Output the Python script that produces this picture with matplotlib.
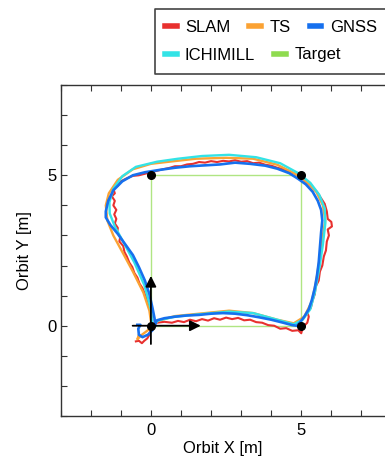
import matplotlib
matplotlib.use("Agg")
import matplotlib.pyplot as plt
from matplotlib.ticker import MultipleLocator
from matplotlib.lines import Line2D

plt.rcParams['font.family'] = ['Liberation Sans', 'DejaVu Sans']

# trajectories [m]
slam_x = [0.0, 0.2, 0.45, 0.7, 0.9, 1.1, 1.3, 1.5, 1.7, 1.9, 2.1, 2.3, 2.5, 2.7, 2.9, 3.1, 3.3, 3.5, 3.7, 3.9,
          4.1, 4.3, 4.5, 4.7, 4.9, 5.0, 5.05, 5.2, 5.25, 5.2, 5.32, 5.38, 5.45, 5.48, 5.58, 5.62, 5.7, 5.75, 5.82,
          5.85, 5.92, 5.88, 6.02, 6.0, 5.88, 5.85, 5.78, 5.65, 5.52, 5.35, 5.2, 5.0, 4.8, 4.6, 4.4, 4.2, 4.0,
          3.8, 3.6, 3.4, 3.2, 3.0, 2.8, 2.6, 2.4, 2.2, 2.0, 1.8, 1.6, 1.4, 1.2, 1.0, 0.8, 0.6, 0.4, 0.2, 0.0,
          -0.2, -0.4, -0.6, -0.8, -1.0, -1.1, -1.25, -1.2, -1.3, -1.2, -1.25, -1.15, -1.22, -1.15, -1.2, -1.1,
          -1.12, -1.02, -1.05, -0.92, -0.88, -0.8, -0.72, -0.62, -0.55, -0.45, -0.38, -0.28, -0.2, -0.12, -0.05,
          0.0, 0.05, 0.0, -0.05, -0.12, -0.22, -0.3, -0.4, -0.5]
slam_y = [0.0, 0.1, 0.13, 0.1, 0.16, 0.12, 0.2, 0.15, 0.22, 0.17, 0.25, 0.2, 0.27, 0.22, 0.26, 0.18, 0.2, 0.12,
          0.1, 0.02, 0.0, -0.1, -0.08, -0.17, -0.15, -0.25, -0.05, 0.1, 0.3, 0.45, 0.6, 0.85, 1.05, 1.3, 1.5,
          1.8, 2.0, 2.3, 2.5, 2.8, 3.0, 3.2, 3.3, 3.45, 3.55, 3.8, 4.05, 4.25, 4.45, 4.62, 4.75, 4.92, 5.05,
          5.12, 5.2, 5.25, 5.32, 5.35, 5.42, 5.4, 5.47, 5.45, 5.5, 5.46, 5.48, 5.44, 5.47, 5.42, 5.44, 5.38,
          5.36, 5.3, 5.3, 5.24, 5.2, 5.15, 5.1, 5.05, 5.0, 4.98, 4.9, 4.8, 4.65, 4.55, 4.4, 4.3, 4.15, 4.0,
          3.85, 3.7, 3.55, 3.4, 3.25, 3.1, 2.95, 2.8, 2.65, 2.45, 2.3, 2.1, 1.95, 1.75, 1.6, 1.4, 1.25, 1.05,
          0.85, 0.65, 0.45, 0.2, -0.05, -0.3, -0.42, -0.5, -0.58, -0.5, -0.52]

ts_x = [0.0, 0.2, 0.8, 1.6, 2.6, 3.4, 4.2, 4.75, 5.1, 5.35, 5.5, 5.62, 5.72, 5.8, 5.72, 5.5, 5.15, 4.8,
        4.2, 3.4, 2.5, 1.5, 0.6, 0.0, -0.6, -1.1, -1.4, -1.5, -1.45, -1.25, -0.95, -0.6, -0.25, -0.05,
        0.02, -0.1, -0.3, -0.45, -0.4]
ts_y = [0.0, 0.15, 0.32, 0.4, 0.5, 0.42, 0.2, 0.08, 0.3, 0.8, 1.5, 2.3, 3.0, 3.5, 4.0, 4.45, 4.8, 5.05,
        5.35, 5.55, 5.58, 5.55, 5.45, 5.38, 5.2, 4.85, 4.4, 4.0, 3.5, 3.0, 2.45, 1.8, 1.1, 0.5,
        0.0, -0.15, -0.3, -0.45, -0.3]

gnss_x = [-0.45, -0.35, -0.42, -0.4, -0.28, -0.1, 0.05, 0.12, 0.2, 0.45, 0.8, 1.2, 1.6, 2.0, 2.4, 2.8, 3.2,
          3.6, 4.0, 4.4, 4.7, 4.85, 4.95, 5.1, 5.25, 5.35, 5.45, 5.52, 5.58, 5.62, 5.66, 5.7, 5.66, 5.55,
          5.38, 5.15, 4.9, 4.6, 4.2, 3.8, 3.3, 2.8, 2.3, 1.8, 1.3, 0.8, 0.3, -0.2, -0.6, -0.95, -1.25,
          -1.42, -1.5, -1.5, -1.35, -1.1, -0.85, -0.6, -0.4, -0.2, -0.05, 0.05, 0.12, 0.15]
gnss_y = [0.03, 0.03, -0.1, -0.3, -0.38, -0.3, -0.15, 0.05, 0.18, 0.25, 0.3, 0.34, 0.36, 0.4, 0.42, 0.4, 0.35,
          0.28, 0.2, 0.1, 0.02, 0.0, 0.1, 0.3, 0.55, 0.85, 1.25, 1.65, 2.1, 2.6, 3.1, 3.5, 3.85, 4.15,
          4.45, 4.7, 4.88, 5.07, 5.22, 5.32, 5.38, 5.42, 5.36, 5.33, 5.3, 5.25, 5.18, 5.1, 5.0, 4.8, 4.5,
          4.15, 3.8, 3.6, 3.35, 3.05, 2.7, 2.35, 1.95, 1.5, 1.05, 0.6, 0.25, 0.0]

ichimill_x = [0.05, 0.25, 0.8, 1.6, 2.6, 3.4, 4.2, 4.75, 5.05, 5.3, 5.45, 5.6, 5.72, 5.8, 5.78, 5.6, 5.3,
              4.9, 4.3, 3.5, 2.6, 1.7, 0.9, 0.2, -0.5, -0.95, -1.25, -1.38, -1.37, -1.2, -0.9, -0.55,
              -0.22, 0.0, 0.05]
ichimill_y = [0.0, 0.18, 0.3, 0.38, 0.47, 0.42, 0.2, 0.05, 0.2, 0.55, 1.1, 1.9, 2.7, 3.4, 3.9, 4.35, 4.75,
              5.07, 5.4, 5.6, 5.68, 5.64, 5.55, 5.45, 5.28, 4.97, 4.55, 4.1, 3.73, 3.3, 2.75, 2.1,
              1.35, 0.55, 0.0]

target_x = [0, 5, 5, 0, 0]
target_y = [0, 0, 5, 5, 0]
corner_x = [0, 5, 5, 0]
corner_y = [0, 0, 5, 5]

c_slam = '#e8302e'
c_ts = '#fba233'
c_gnss = '#1670ee'
c_ichi = '#33e3e6'
c_target = '#8fdb4f'

fig = plt.figure(figsize=(3.85, 4.58), dpi=100)
# the plot runs off the right edge of the picture: cut it at the figure border
left_px = 60.7
px_per_m = 30.07
ax = fig.add_axes([left_px / 385, 42 / 458, 1 - left_px / 385, 331 / 458])

ax.plot(target_x, target_y, color=c_target, lw=1.0, alpha=0.7, zorder=1)
ax.plot(slam_x, slam_y, color=c_slam, lw=1.5, zorder=2)
ax.plot(ts_x, ts_y, color=c_ts, lw=1.7, zorder=3)
ax.plot(ichimill_x, ichimill_y, color=c_ichi, lw=1.7, zorder=4)
ax.plot(gnss_x, gnss_y, color=c_gnss, lw=1.9, zorder=5)

# origin frame arrows
ax.annotate('', xy=(1.75, 0), xytext=(-0.7, 0),
            arrowprops=dict(arrowstyle='-|>', color='black', lw=1.3, mutation_scale=16), zorder=6)
ax.annotate('', xy=(0, 1.75), xytext=(0, -0.7),
            arrowprops=dict(arrowstyle='-|>', color='black', lw=1.3, mutation_scale=16), zorder=6)
ax.plot(corner_x, corner_y, 'o', color='black', ms=5.5, zorder=7)

ax.set_xlim(-3, -3 + (385 - left_px) / px_per_m)
ax.set_ylim(-3, 8)
ax.xaxis.set_major_locator(MultipleLocator(5))
ax.yaxis.set_major_locator(MultipleLocator(5))
ax.xaxis.set_minor_locator(MultipleLocator(1))
ax.yaxis.set_minor_locator(MultipleLocator(1))
ax.tick_params(which='both', direction='in', length=4, width=0.8, color='#333333', labelsize=12,
               top=True)
ax.tick_params(axis='x', pad=5)
ax.tick_params(axis='y', pad=3)
for s in ax.spines.values():
    s.set_color('#333333')
    s.set_linewidth(1.0)
ax.spines['right'].set_visible(False)

ax.set_xlabel('Orbit X [m]', fontsize=12, labelpad=2)
ax.set_ylabel('Orbit Y [m]', fontsize=12, labelpad=11)

# legend in two free-flowing rows inside one frame
h1 = [Line2D([], [], color=c, lw=4) for c in (c_slam, c_ts, c_gnss)]
h2 = [Line2D([], [], color=c, lw=4) for c in (c_ichi, c_target)]
kw = dict(frameon=False, loc='center left', fontsize=12, handlelength=0.7, handletextpad=0.5,
          columnspacing=1.15, borderpad=0, borderaxespad=0)
fig.legend(h1, ['SLAM', 'TS', 'GNSS'], ncol=3, bbox_to_anchor=(165 / 385, 1 - 27 / 458), **kw)
fig.legend(h2, ['ICHIMILL', 'Target'], ncol=2, bbox_to_anchor=(165 / 385, 1 - 55 / 458), **kw)
box_l, box_t, box_b = 155 / 385, 1 - 9 / 458, 1 - 74 / 458
fig.add_artist(Line2D([1.0, box_l, box_l, 1.0], [box_t, box_t, box_b, box_b],
                      transform=fig.transFigure, color='#444444', lw=1.2))

fig.savefig('out.png', dpi=100)
